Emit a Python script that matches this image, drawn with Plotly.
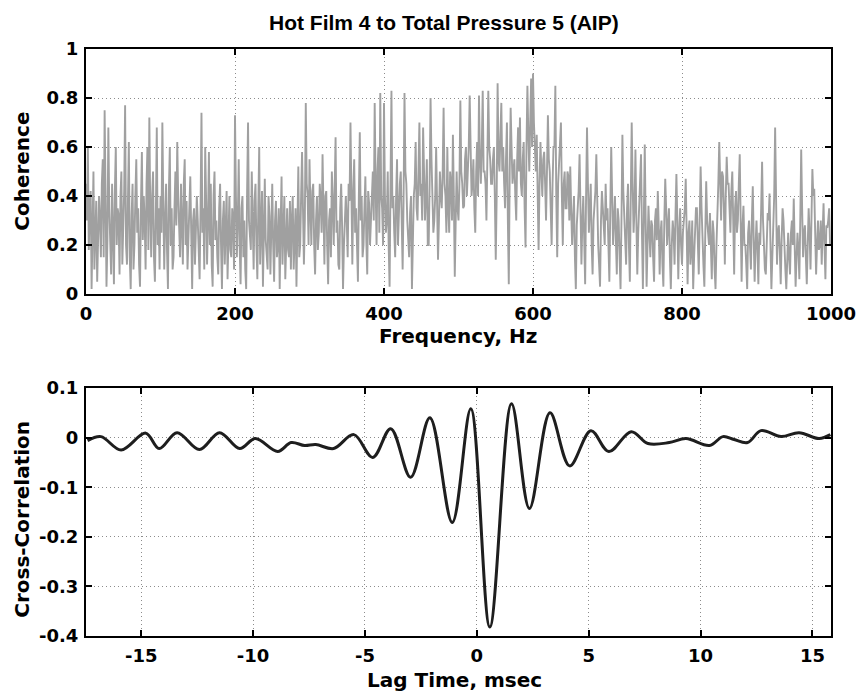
import plotly.graph_objects as go

# ---------------- data ----------------
# coherence read at 2.5 Hz steps starting at 0 Hz (even samples)
coherence_even = [
    0.45, 0.6, 0.35, 0.02, 0.5, 0.3, 0.05, 0.4, 0.15, 0.55, 0.75, 0.03, 0.68, 0.2, 0.45, 0.04, 0.6, 0.35, 0.08, 0.5,
    0.3, 0.77, 0.12, 0.62, 0.02, 0.45, 0.2, 0.55, 0.35, 0.03, 0.58, 0.4, 0.1, 0.6, 0.72, 0.15, 0.5, 0.05, 0.68, 0.35,
    0.4, 0.7, 0.1, 0.45, 0.02, 0.6, 0.35, 0.15, 0.5, 0.62, 0.2, 0.45, 0.12, 0.55, 0.38, 0.2, 0.48, 0.02, 0.35, 0.25,
    0.3, 0.06, 0.74, 0.35, 0.6, 0.12, 0.58, 0.45, 0.03, 0.5, 0.3, 0.08, 0.45, 0.02, 0.38, 0.25, 0.06, 0.4, 0.15, 0.3,
    0.73, 0.15, 0.55, 0.04, 0.4, 0.3, 0.02, 0.7, 0.25, 0.5, 0.1, 0.45, 0.06, 0.6, 0.3, 0.03, 0.47, 0.15, 0.4, 0.08,
    0.45, 0.05, 0.38, 0.2, 0.02, 0.48, 0.3, 0.06, 0.35, 0.15, 0.1, 0.4, 0.28, 0.03, 0.52, 0.2, 0.58, 0.12, 0.78, 0.4,
    0.55, 0.2, 0.45, 0.08, 0.4, 0.25, 0.38, 0.57, 0.12, 0.42, 0.04, 0.35, 0.5, 0.2, 0.64, 0.3, 0.1, 0.45, 0.02, 0.35,
    0.3, 0.45, 0.7, 0.12, 0.55, 0.35, 0.05, 0.66, 0.4, 0.2, 0.48, 0.08, 0.37, 0.28, 0.5, 0.78, 0.2, 0.6, 0.82, 0.35,
    0.78, 0.25, 0.5, 0.03, 0.83, 0.4, 0.15, 0.55, 0.35, 0.5, 0.1, 0.82, 0.45, 0.2, 0.33, 0.02, 0.4, 0.62, 0.3, 0.7,
    0.45, 0.68, 0.3, 0.55, 0.2, 0.8, 0.42, 0.3, 0.6, 0.14, 0.5, 0.35, 0.76, 0.4, 0.6, 0.25, 0.45, 0.65, 0.07, 0.5,
    0.3, 0.79, 0.45, 0.36, 0.6, 0.5, 0.81, 0.4, 0.55, 0.25, 0.62, 0.81, 0.45, 0.83, 0.5, 0.3, 0.83, 0.55, 0.45, 0.6,
    0.14, 0.86, 0.5, 0.78, 0.6, 0.35, 0.7, 0.04, 0.76, 0.45, 0.55, 0.3, 0.68, 0.72, 0.4, 0.62, 0.19, 0.85, 0.5, 0.88,
    0.9, 0.55, 0.65, 0.18, 0.62, 0.4, 0.58, 0.3, 0.73, 0.5, 0.2, 0.6, 0.85, 0.15, 0.55, 0.7, 0.2, 0.5, 0.35, 0.48,
    0.52, 0.2, 0.4, 0.02, 0.35, 0.57, 0.12, 0.4, 0.04, 0.68, 0.25, 0.45, 0.08, 0.38, 0.57, 0.2, 0.03, 0.42, 0.25, 0.45,
    0.35, 0.05, 0.6, 0.2, 0.4, 0.08, 0.3, 0.02, 0.65, 0.3, 0.12, 0.45, 0.05, 0.7, 0.25, 0.59, 0.08, 0.35, 0.57, 0.02,
    0.61, 0.03, 0.36, 0.15, 0.28, 0.05, 0.35, 0.42, 0.08, 0.3, 0.03, 0.47, 0.2, 0.35, 0.02, 0.3, 0.12, 0.49, 0.06, 0.35,
    0.12, 0.3, 0.47, 0.04, 0.3, 0.18, 0.02, 0.27, 0.35, 0.08, 0.52, 0.2, 0.03, 0.46, 0.25, 0.33, 0.06, 0.25, 0.02, 0.3,
    0.62, 0.3, 0.48, 0.12, 0.56, 0.45, 0.25, 0.5, 0.08, 0.42, 0.3, 0.57, 0.05, 0.36, 0.2, 0.02, 0.3, 0.1, 0.44, 0.05,
    0.3, 0.04, 0.2, 0.54, 0.15, 0.08, 0.33, 0.41, 0.02, 0.3, 0.68, 0.12, 0.28, 0.04, 0.35, 0.15, 0.02, 0.25, 0.08, 0.3,
    0.39, 0.03, 0.25, 0.06, 0.59, 0.15, 0.28, 0.04, 0.35, 0.1, 0.51, 0.43, 0.08, 0.3, 0.2, 0.12, 0.37, 0.06, 0.27, 0.35,
]
# coherence read at the in-between frequencies (1.25 Hz + 2.5 Hz steps)
coherence_odd = [
    0.3, 0.18, 0.42, 0.25, 0.1, 0.38, 0.2, 0.3, 0.45, 0.15, 0.4, 0.22, 0.35, 0.08, 0.3, 0.42, 0.2, 0.32, 0.4, 0.12,
    0.42, 0.2, 0.38, 0.15, 0.32, 0.1, 0.4, 0.25, 0.12, 0.36, 0.22, 0.3, 0.45, 0.18, 0.35, 0.4, 0.15, 0.32, 0.2, 0.1,
    0.25, 0.38, 0.3, 0.18, 0.42, 0.2, 0.1, 0.35, 0.28, 0.4, 0.15, 0.32, 0.45, 0.2, 0.1, 0.38, 0.25, 0.3, 0.12, 0.4,
    0.18, 0.35, 0.25, 0.1, 0.38, 0.3, 0.2, 0.12, 0.4, 0.22, 0.15, 0.35, 0.2, 0.3, 0.12, 0.42, 0.3, 0.18, 0.35, 0.1,
    0.4, 0.3, 0.2, 0.35, 0.15, 0.1, 0.42, 0.3, 0.18, 0.25, 0.38, 0.2, 0.35, 0.12, 0.42, 0.3, 0.22, 0.1, 0.32, 0.25,
    0.2, 0.3, 0.15, 0.35, 0.28, 0.12, 0.4, 0.22, 0.18, 0.38, 0.3, 0.1, 0.35, 0.25, 0.15, 0.4, 0.35, 0.3, 0.45, 0.2,
    0.35, 0.42, 0.2, 0.3, 0.18, 0.45, 0.25, 0.35, 0.4, 0.2, 0.3, 0.15, 0.38, 0.42, 0.25, 0.12, 0.35, 0.28, 0.2, 0.4,
    0.15, 0.38, 0.3, 0.42, 0.25, 0.2, 0.4, 0.3, 0.15, 0.35, 0.22, 0.42, 0.2, 0.4, 0.3, 0.45, 0.5, 0.25, 0.4, 0.2,
    0.4, 0.3, 0.2, 0.45, 0.35, 0.25, 0.4, 0.2, 0.45, 0.3, 0.38, 0.5, 0.3, 0.15, 0.4, 0.25, 0.45, 0.35, 0.5, 0.4,
    0.3, 0.5, 0.4, 0.2, 0.45, 0.55, 0.25, 0.4, 0.35, 0.3, 0.4, 0.5, 0.45, 0.25, 0.35, 0.5, 0.3, 0.4, 0.3, 0.35,
    0.45, 0.5, 0.35, 0.55, 0.4, 0.6, 0.5, 0.45, 0.35, 0.5, 0.4, 0.55, 0.6, 0.5, 0.45, 0.55, 0.6, 0.45, 0.55, 0.4,
    0.4, 0.55, 0.65, 0.5, 0.45, 0.55, 0.3, 0.5, 0.6, 0.5, 0.4, 0.55, 0.5, 0.45, 0.55, 0.35, 0.6, 0.65, 0.7, 0.6,
    0.7, 0.5, 0.35, 0.45, 0.5, 0.55, 0.45, 0.5, 0.55, 0.35, 0.45, 0.6, 0.4, 0.45, 0.6, 0.4, 0.45, 0.35, 0.5, 0.3,
    0.35, 0.3, 0.15, 0.28, 0.42, 0.35, 0.3, 0.22, 0.4, 0.45, 0.35, 0.2, 0.3, 0.42, 0.35, 0.12, 0.3, 0.35, 0.2, 0.3,
    0.2, 0.35, 0.4, 0.3, 0.22, 0.35, 0.15, 0.3, 0.42, 0.25, 0.35, 0.2, 0.4, 0.45, 0.35, 0.3, 0.25, 0.4, 0.25, 0.3,
    0.3, 0.2, 0.25, 0.3, 0.15, 0.3, 0.22, 0.28, 0.25, 0.12, 0.3, 0.35, 0.28, 0.15, 0.2, 0.25, 0.32, 0.3, 0.25, 0.2,
    0.25, 0.35, 0.2, 0.25, 0.12, 0.3, 0.15, 0.35, 0.2, 0.3, 0.35, 0.12, 0.25, 0.3, 0.2, 0.15, 0.3, 0.1, 0.2, 0.45,
    0.45, 0.5, 0.35, 0.4, 0.45, 0.35, 0.42, 0.3, 0.35, 0.25, 0.45, 0.3, 0.28, 0.2, 0.12, 0.25, 0.2, 0.3, 0.22, 0.2,
    0.18, 0.25, 0.35, 0.3, 0.1, 0.25, 0.3, 0.2, 0.15, 0.4, 0.3, 0.25, 0.18, 0.22, 0.3, 0.1, 0.2, 0.15, 0.25, 0.2,
    0.2, 0.15, 0.18, 0.3, 0.35, 0.25, 0.15, 0.2, 0.25, 0.3, 0.4, 0.25, 0.2, 0.18, 0.3, 0.25, 0.2, 0.28, 0.3, 0.2,
]
freq_step_hz = 2.5
frequency_hz = []
coherence = []
for i in range(len(coherence_even)):
    frequency_hz.append(i * freq_step_hz)
    coherence.append(coherence_even[i])
    if i < len(coherence_odd):
        frequency_hz.append(i * freq_step_hz + freq_step_hz / 2)
        coherence.append(coherence_odd[i])

lag_msec = [-17.4, -16.8, -15.9, -14.8, -14.2, -13.4, -12.4, -11.5, -10.6, -9.9, -8.9, -8.3, -7.7,
            -7.2, -6.4, -5.5, -4.65, -3.85, -2.96, -2.1, -1.1, -0.27, 0.58, 1.55, 2.35, 3.27,
            4.15, 5.1, 5.9, 6.9, 7.65, 8.6, 9.35, 10.4, 11.0, 11.5, 12.1, 12.7, 13.6, 14.4, 15.3, 15.8]
cross_corr = [-0.006, 0.002, -0.025, 0.009, -0.022, 0.01, -0.024, 0.01, -0.022, -0.002, -0.028, -0.01, -0.016,
              -0.014, -0.022, 0.006, -0.04, 0.018, -0.08, 0.04, -0.171, 0.058, -0.382, 0.068, -0.143, 0.05,
              -0.057, 0.014, -0.028, 0.012, -0.012, -0.01, -0.002, -0.016, 0.002, -0.004, -0.01, 0.014, 0.002,
              0.01, -0.002, 0.006]

top_xticks = [0, 200, 400, 600, 800, 1000]
top_yticks = [0, 0.2, 0.4, 0.6, 0.8, 1]
top_yticklabels = ["0", "0.2", "0.4", "0.6", "0.8", "1"]
bot_xticks = [-15, -10, -5, 0, 5, 10, 15]
bot_xticklabels = ["-15", "-10", "-5", "0", "5", "10", "15"]
bot_yticks = [-0.4, -0.3, -0.2, -0.1, 0, 0.1]
bot_yticklabels = ["-0.4", "-0.3", "-0.2", "-0.1", "0", "0.1"]

title_text = "Hot Film 4 to Total Pressure 5 (AIP)"

# ---------------- figure ----------------
W, H = 868, 692
ML, MR, MT, MB = 86, 28, 49, 56
ph = H - MT - MB


def fy(px):
    return (H - MB - px) / ph


def fx(px):
    return (px - ML) / (W - ML - MR)


fig = go.Figure()
fig.add_trace(go.Scatter(x=frequency_hz, y=coherence, mode="lines",
                         line=dict(color="#a0a0a0", width=1.9),
                         xaxis="x", yaxis="y", showlegend=False))
fig.add_trace(go.Scatter(x=lag_msec, y=cross_corr, mode="lines",
                         line=dict(color="#1e1e1e", width=3, shape="spline", smoothing=1.0),
                         xaxis="x2", yaxis="y2", showlegend=False))

tickfont = dict(family="DejaVu Sans", size=18, color="black", weight="bold")
axis_common = dict(showline=True, linecolor="black", linewidth=2, mirror="allticks",
                   ticks="inside", ticklen=6, tickwidth=2, tickcolor="black",
                   showgrid=True, gridcolor="#8c8c8c", gridwidth=1, griddash="1px,3px",
                   zeroline=False, tickfont=tickfont, ticklabelstandoff=2)

fig.update_layout(
    width=W, height=H, autosize=False,
    margin=dict(l=ML, r=MR, t=MT, b=MB),
    paper_bgcolor="white", plot_bgcolor="white",
    xaxis=dict(domain=[0, 1], anchor="y", range=[0, 1000], tickvals=top_xticks,
               ticktext=[str(v) for v in top_xticks], **axis_common),
    yaxis=dict(domain=[fy(294), 1], anchor="x", range=[0, 1], tickvals=top_yticks,
               ticktext=top_yticklabels, **axis_common),
    xaxis2=dict(domain=[0, 1], anchor="y2", range=[-17.47, 15.83], tickvals=bot_xticks,
                ticktext=bot_xticklabels, **axis_common),
    yaxis2=dict(domain=[0, fy(388)], anchor="x2", range=[-0.4, 0.1], tickvals=bot_yticks,
                ticktext=bot_yticklabels, **axis_common),
)

labfont = dict(family="DejaVu Sans", size=20, color="black", weight="bold")
annotations = [
    dict(text=title_text, x=fx(448), y=fy(22), xref="paper", yref="paper",
         showarrow=False, xanchor="center", yanchor="middle",
         font=dict(family="Liberation Sans", size=21, color="black", weight="bold")),
    dict(text="Frequency, Hz", x=fx(462), y=fy(336), xref="paper", yref="paper",
         showarrow=False, xanchor="center", yanchor="middle", font=labfont),
    dict(text="Lag Time, msec", x=fx(459), y=fy(680), xref="paper", yref="paper",
         showarrow=False, xanchor="center", yanchor="middle", font=labfont),
    dict(text="Coherence", x=fx(21), y=fy(171), xref="paper", yref="paper",
         showarrow=False, xanchor="center", yanchor="middle", textangle=-90, font=labfont),
    dict(text="Cross-Correlation", x=fx(21), y=fy(519), xref="paper", yref="paper",
         showarrow=False, xanchor="center", yanchor="middle", textangle=-90, font=labfont),
]
fig.update_layout(annotations=annotations)

fig.write_html("out.html")
